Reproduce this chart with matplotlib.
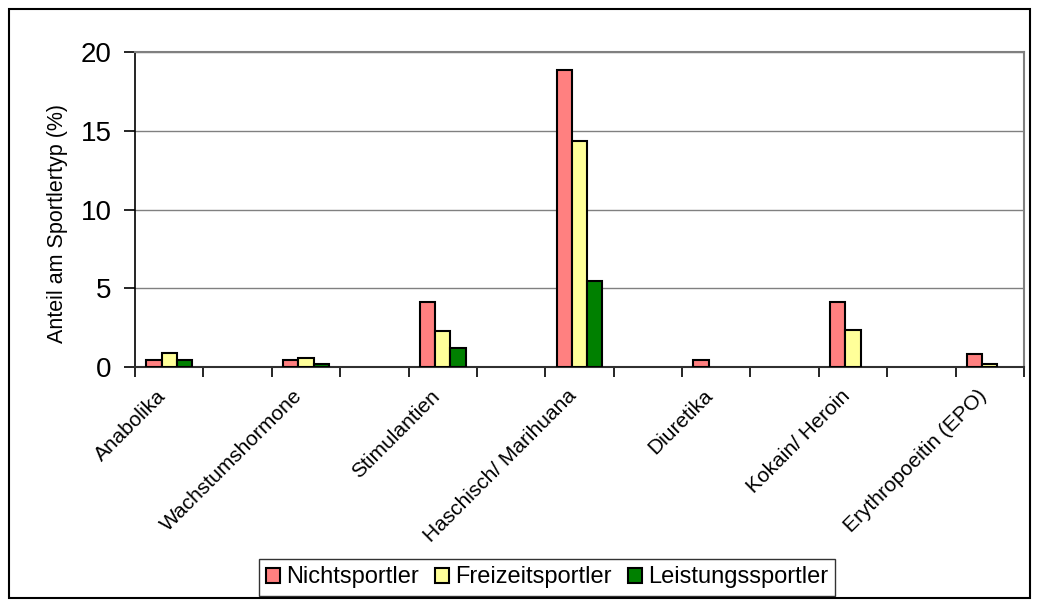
import numpy as np
import matplotlib.pyplot as plt
import matplotlib.transforms as mtransforms
from matplotlib.patches import Patch, Rectangle

plt.rcParams['font.family'] = ['Liberation Sans', 'DejaVu Sans']

# drug categories (an empty slot sits between each pair on the axis)
categories = ['Anabolika', 'Wachstumshormone', 'Stimulantien', 'Haschisch/ Marihuana',
              'Diuretika', 'Kokain/ Heroin', 'Erythropoeitin (EPO)']
series_names = ['Nichtsportler', 'Freizeitsportler', 'Leistungssportler']
nicht = [0.42, 0.42, 4.14, 18.83, 0.42, 4.14, 0.84]
frei = [0.90, 0.60, 2.26, 14.33, 0.0, 2.35, 0.17]
leist = [0.42, 0.20, 1.19, 5.46, 0.0, 0.0, 0.0]
colors = ['#FF8080', '#FFFF99', '#008000']

fig = plt.figure(figsize=(10.4, 6.07), dpi=100)
ax = fig.add_axes([135 / 1040, 240 / 607, 889 / 1040, 315 / 607])

n_slots = 2 * len(categories) - 1
pos = np.arange(len(categories)) * 2
w = 0.224
for i, (vals, col) in enumerate(zip([nicht, frei, leist], colors)):
    vals = np.asarray(vals, dtype=float)
    # zero values get no bar at all (no outline on the axis)
    vals = np.where(vals > 0, vals, np.nan)
    ax.bar(pos + (i - 1) * w, vals, width=w, color=col, edgecolor='black',
           linewidth=1.5, zorder=3)

ax.set_xlim(-0.5, n_slots - 0.5)
ax.set_ylim(0, 20)
ax.set_yticks([0, 5, 10, 15, 20])
ax.tick_params(axis='y', labelsize=20, length=8, width=1.2, direction='out', pad=9)
ax.yaxis.grid(True, color='#808080', linewidth=1.0, zorder=0)

# category labels at group centres, tick marks at slot boundaries
ax.set_xticks(pos)
ax.set_xticklabels(categories, rotation=45, ha='right', va='top',
                   rotation_mode='anchor', fontsize=15)
ax.tick_params(axis='x', length=0, pad=14)
shift = mtransforms.ScaledTranslation(-13 / 100, 0, fig.dpi_scale_trans)
for lab in ax.get_xticklabels():
    lab.set_transform(lab.get_transform() + shift)
ax.set_xticks(np.arange(-0.5, n_slots, 1.0), minor=True)
ax.tick_params(axis='x', which='minor', length=7, width=1.2, direction='out')

for side in ['top', 'right']:
    ax.spines[side].set_color('#808080')
    ax.spines[side].set_linewidth(1.5)
ax.spines['left'].set_linewidth(1.2)
ax.spines['bottom'].set_linewidth(1.5)
ax.spines['bottom'].set_color('#303030')

ax.set_ylabel('Anteil am Sportlertyp (%)', fontsize=15.5)
ax.yaxis.set_label_coords(-0.075, 0.455)

handles = [Patch(facecolor=c, edgecolor='black', linewidth=1.5) for c in colors]
leg = fig.legend(handles, series_names, loc='center', bbox_to_anchor=(547 / 1040, 1 - 577.5 / 607),
                 ncol=3, fontsize=17, frameon=True, fancybox=False, handlelength=0.6,
                 handleheight=0.6, handletextpad=0.25, columnspacing=0.68,
                 borderpad=0.3, borderaxespad=0)
leg.get_frame().set_edgecolor('black')
leg.get_frame().set_linewidth(1.0)

# outer chart border
fig.patches.append(Rectangle((9 / 1040, 9 / 607), 1021 / 1040, 589 / 607,
                             transform=fig.transFigure, fill=False,
                             edgecolor='black', linewidth=1.5))

fig.savefig('out.png', dpi=100)
